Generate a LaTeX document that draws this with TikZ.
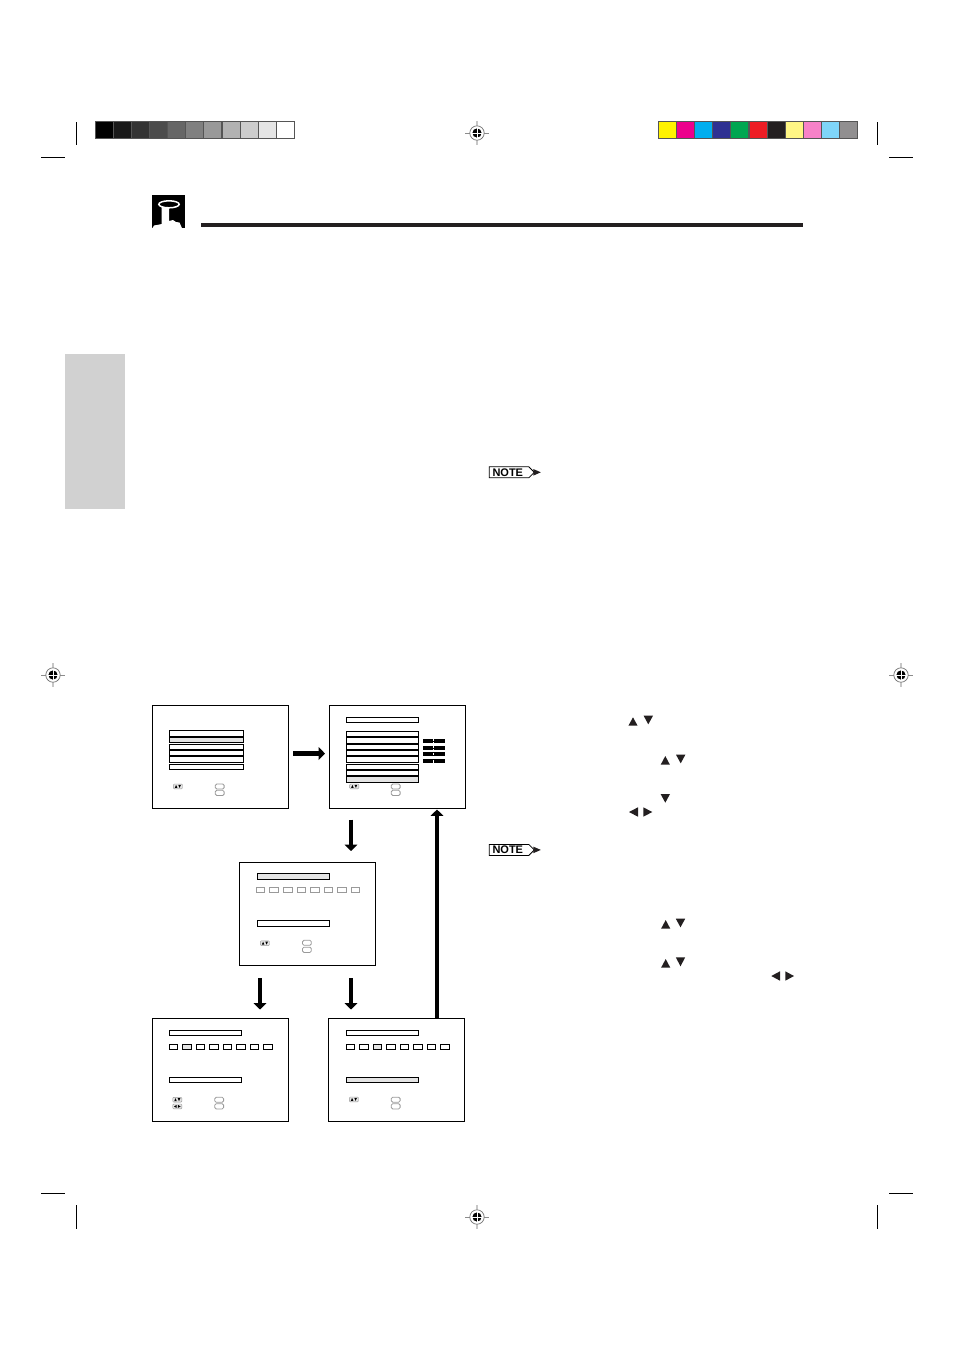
\documentclass[tikz,border=0pt]{standalone}
\usepackage{fontspec}
\setmainfont{Liberation Sans}
\usetikzlibrary{arrows.meta}
\definecolor{inkk}{HTML}{231F20}
\definecolor{barline}{HTML}{555555}
\definecolor{hilite}{HTML}{E4E4E4}
\definecolor{softline}{HTML}{9A9A9A}
\tikzset{
  screen/.style={draw=black,fill=white,line width=0.45pt,inner sep=0pt,minimum width=68pt,minimum height=51.5pt,outer sep=0pt},
  crop/.style={draw=black,line width=0.45pt},
  row/.style={draw=black,line width=0.5pt,fill=white},
  rowhi/.style={draw=black,line width=0.5pt,fill=hilite},
  sep/.style={draw=black,line width=0.95pt},
  keysoft/.style={draw=softline,line width=0.4pt,rounded corners=0.7pt,fill=white},
  icon/.style={fill=hilite,draw=softline,line width=0.2pt,rounded corners=0.5pt},
  tri/.style={fill=inkk,draw=none},
  flow/.style={draw=black,line width=2.05pt,-{Triangle[length=3.2pt,width=6.3pt]}},
  swatch/.style={draw=barline,line width=0.55pt},
  notebox/.style={inner sep=0pt,font=\bfseries\fontsize{5.5pt}{6pt}\selectfont,text=black}
}
\newcommand{\regmark}[2]{%
  \begin{scope}[shift={(#1,#2)}]
    \draw[black!22,line width=0.55pt] (0,-12) -- (0,12);
    \draw[black!45,line width=0.45pt] (-12,0) -- (12,0);
    \draw[black!55,line width=0.35pt,fill=white] (0,0) circle (3.6pt);
    \fill[black] (0,0) circle (2.3pt);
    \draw[white,line width=0.4pt] (-5,0) -- (5,0) (0,-5) -- (0,5);
  \end{scope}}
\newcommand{\udicon}[2]{%
  \draw[icon] (#1,#2) rectangle ++(9.2,4.8);
  \fill[black] (#1+1.5,#2+3.9) -- ++(2.6,0) -- ++(-1.3,-3) -- cycle;
  \fill[black] (#1+5,#2+0.9) -- ++(2.6,0) -- ++(-1.3,3) -- cycle;}
\newcommand{\lricon}[2]{%
  \draw[icon] (#1,#2) rectangle ++(9.2,4.8);
  \fill[black] (#1+1.2,#2+2.4) -- ++(2.8,-1.5) -- ++(0,3) -- cycle;
  \fill[black] (#1+8,#2+2.4) -- ++(-2.8,-1.5) -- ++(0,3) -- cycle;}
\newcommand{\softkeys}[3]{%
  \draw[keysoft] (#1,#2) rectangle ++(8.8,5);
  \draw[keysoft] (#1,#3) rectangle ++(8.8,5.2);}
\newcommand{\triup}[3]{\fill[tri] (#1-4.6,#3) -- (#1+4.6,#3) -- (#1,#2) -- cycle;}
\newcommand{\tridown}[3]{\fill[tri] (#1-4.7,#2) -- (#1+4.7,#2) -- (#1,#3) -- cycle;}
\newcommand{\trileft}[3]{\fill[tri] (#1,#3) -- (#2,#3-4.7) -- (#2,#3+4.7) -- cycle;}
\newcommand{\triright}[3]{\fill[tri] (#2,#3) -- (#1,#3-4.7) -- (#1,#3+4.7) -- cycle;}
\newcommand{\noteicon}[2]{%
  \begin{scope}[shift={(489.3,#1)}]
    \draw[black,line width=0.4pt,fill=white] (0,0) -- (39.5,0) -- (45,5.5) -- (39.5,11) -- (0,11) -- cycle;
    \fill[inkk] (44,2.2) -- (51.5,5.5) -- (44,8.8) -- cycle;
    \node[notebox,anchor=center] (#2) at (18.5,5.6) {NOTE};
  \end{scope}}
\begin{document}
\begin{tikzpicture}[x=0.5pt,y=-0.5pt]
\useasboundingbox (0,0) rectangle (954,1351);
\fill[white] (0,0) rectangle (954,1351);

% grey scale strip
\foreach \i/\g in {0/0,1/10,2/20,3/30,4/40,5/50,6/60,7/70,8/80,9/90,10/100}{
  \pgfmathsetmacro{\gg}{100-\g}
  \draw[swatch,fill=black!\gg!white] ({95.3+\i*18.1},121.3) rectangle ++(18.1,17);
}
% colour strip
\foreach \i/\c in {0/FFF200,1/EC008C,2/00AEEF,3/2E3192,4/00A651,5/ED1C24,6/231F20,7/FFF685,8/F782C8,9/7FD5F9,10/918F90}{
  \definecolor{sw}{HTML}{\c}
  \draw[swatch,fill=sw] ({658.3+\i*18.13},121.3) rectangle ++(18.13,17);
}

% crop marks
\draw[crop] (76,122) -- (76,145) (41,157) -- (65,157);
\draw[crop] (877.5,122) -- (877.5,145) (889,157) -- (913,157);
\draw[crop] (41,1193.3) -- (65,1193.3) (76.3,1205) -- (76.3,1229);
\draw[crop] (889,1193.3) -- (913,1193.3) (877.5,1205) -- (877.5,1229);

% registration marks
\regmark{477}{133}
\regmark{53}{675}
\regmark{901}{675}
\regmark{477}{1217}

% page header
\fill[black] (152,195) rectangle (185.3,228);
\draw[white,line width=0.75pt] (169,204.3) ellipse (5.1pt and 1.75pt);
\fill[white] (161.7,207) -- (169,207) -- (169,221) -- (173,220) -- (176,222) -- (179.5,222.5) -- (181.5,227) -- (182,228)
  -- (152.5,228) -- (154,225.5) -- (158,224.8) -- (161.7,224) -- cycle;
\fill[inkk] (201,223) rectangle (803,227);

% side tab
\fill[black!18] (65,354) rectangle (125,509);

% note icons
\noteicon{466.8}{noteA}
\noteicon{844.4}{noteB}

% screens
\node[screen] (s1) at (220,757) {};
\node[screen] (s2) at (397,757) {};
\node[screen] (s3) at (307,913.5) {};
\node[screen] (s4) at (220,1070) {};
\node[screen] (s5) at (396.5,1070) {};

% screen 1
\draw[row] (169,730.5) rectangle (243,736.5);
\draw[rowhi] (169,736.5) rectangle (243,742.7);
\draw[row] (169,744.5) rectangle (243,762.7);
\draw[sep] (169,736.7) -- (243,736.7) (169,750) -- (243,750) (169,756.4) -- (243,756.4);
\draw[row] (169,764.5) rectangle (243,769.7);
\udicon{173.3}{784}
\softkeys{215.3}{784}{790.3}

% screen 2
\draw[row] (346.3,717.3) rectangle (418.7,722.7);
\draw[row] (346.3,731.3) rectangle (418.7,762.7);
\draw[sep] (346.3,737) -- (418.7,737) (346.3,743.7) -- (418.7,743.7) (346.3,749.7) -- (418.7,749.7) (346.3,756.3) -- (418.7,756.3);
\draw[rowhi] (346.3,776.3) rectangle (418.7,782.3);
\draw[row] (346.3,764.3) rectangle (418.7,776.3);
\draw[sep] (346.3,770) -- (418.7,770) (346.3,776.3) -- (418.7,776.3);
\foreach \a/\b in {739/743,746/749.7,752/755.7,759/762.7}{
  \fill[black] (423,\a) rectangle (445,\b);
}
\draw[white,line width=0.4pt,dash pattern=on 1.2pt off 0.6pt] (433.7,738.5) -- (433.7,763.5);
\udicon{349.6}{784}
\softkeys{391.3}{784}{790.3}

% screen 3
\draw[rowhi] (257.3,873.3) rectangle (329.7,879.7);
\foreach \x in {256,269.9,283.3,297,310.3,324,337.3,351}{
  \draw[draw=softline,line width=0.45pt] (\x,887.3) rectangle ++(8.7,5.4);
}
\draw[row] (257.3,920.3) rectangle (329.7,926.7);
\udicon{260.3}{940.8}
\softkeys{302.5}{940.3}{947.2}

% screen 4
\draw[row] (169.3,1030.3) rectangle (241.7,1035.7);
\foreach \i in {0,...,7}{
  \ifnum\i=1 \draw[rowhi] ({169.3+\i*13.45},1044) rectangle ++(8.6,5.7);
  \else \draw[row] ({169.3+\i*13.45},1044) rectangle ++(8.6,5.7); \fi
}
\draw[row] (169.3,1077.3) rectangle (241.7,1082.7);
\udicon{172.7}{1097.3}
\lricon{172.7}{1104}
\softkeys{214.8}{1097.3}{1103.7}

% screen 5
\draw[row] (346.3,1030.3) rectangle (418.7,1035.7);
\foreach \i in {0,...,7}{
  \ifnum\i=2 \draw[rowhi] ({346.3+\i*13.45},1044) rectangle ++(8.6,5.7);
  \else \draw[row] ({346.3+\i*13.45},1044) rectangle ++(8.6,5.7); \fi
}
\draw[rowhi] (346.3,1077.3) rectangle (418.7,1082.7);
\udicon{349.3}{1097}
\softkeys{391.3}{1097.2}{1103.7}

% connectors
\coordinate (xa) at (260,0);
\coordinate (xb) at (351,0);
\coordinate (xc) at (437,0);
\coordinate (yh) at (0,753.5);
\draw[flow,shorten <=2.5pt,shorten >=2pt] (s1.east |- yh) -- (s2.west |- yh);
\draw[flow,shorten <=5.5pt,shorten >=5.5pt] (s2.south -| xb) -- (s3.north -| xb);
\draw[flow,shorten <=6.5pt,shorten >=4.5pt] (s3.south -| xa) -- (s4.north -| xa);
\draw[flow,shorten <=6.5pt,shorten >=4.5pt] (s3.south -| xb) -- (s5.north -| xb);
\draw[flow,shorten >=0.5pt] (s5.north -| xc) -- (s2.south -| xc);

% key triangles
\triup{633}{717.3}{725.7}
\tridown{648.3}{715.7}{724.3}
\triup{665.3}{756}{764.7}
\tridown{680.7}{754.7}{763.3}
\tridown{665.3}{794}{802.7}
\trileft{629}{638}{812}
\triright{643.3}{652.3}{812}
\triup{665.7}{920}{928.7}
\tridown{680.5}{918.7}{927.3}
\triup{665.7}{959}{967.7}
\tridown{680.5}{957.3}{966.3}
\trileft{771.3}{780}{976}
\triright{785.3}{794}{976}
\end{tikzpicture}
\end{document}
